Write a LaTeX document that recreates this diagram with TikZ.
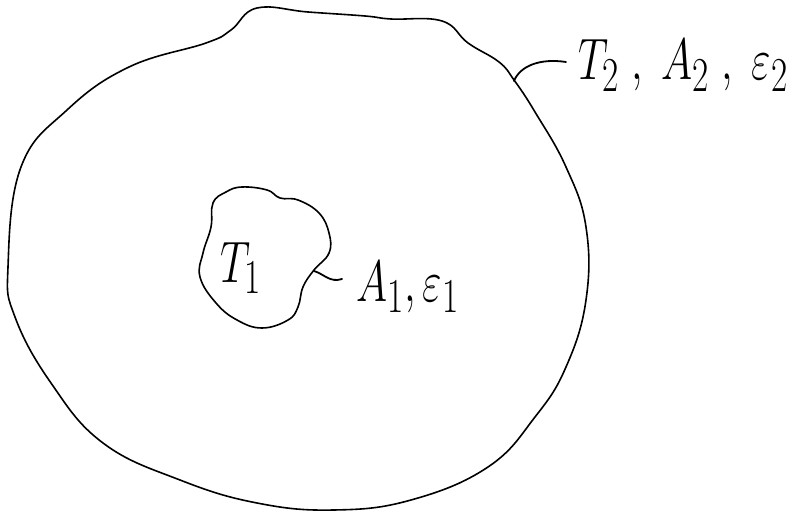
\documentclass[tikz,border=0pt]{standalone}
\begin{document}
\begin{tikzpicture}[x=1pt,y=-1pt,
  blob/.style={line width=1.6pt,line join=round},
  tick/.style={line width=1.8pt,line cap=round},
  lab/.style={inner sep=0pt,anchor=base west,font=\Huge,xscale=1.7,yscale=2.35,transform shape}]
\useasboundingbox (0,0) rectangle (806,513);
% outer region
\draw[blob] plot[smooth cycle,tension=0.7] coordinates {
  (257,8) (308,12) (365,16) (391,19) (442,21) (468,43) (499,62) (514,80)
  (535,112) (566,167) (586,227) (586,300) (566,367) (535,417) (488,467)
  (411,500) (334,510) (257,503) (180,480) (103,443) (51,383) (15,317)
  (8,267) (21,167) (67,110) (129,67) (206,43) (231,30)};
% inner body
\draw[blob] plot[smooth cycle,tension=0.7] coordinates {
  (242,187) (267,190) (280,198) (298,200) (319,213) (329,233) (329,253)
  (314,270) (303,287) (298,307) (288,320) (262,328) (237,320) (216,303)
  (200,277) (203,253) (211,227) (213,203) (226,192)};
\coordinate (p1) at (314,271);
\coordinate (p2) at (514,81);
\coordinate (e1) at (342,279);
\coordinate (e2) at (566,62);
\node[lab] (t1) at (220,282) {$T_1$};
\node[lab] (l1) at (356,301) {$A_1, \varepsilon_1$};
\node[lab] (l2) at (578,80) {$T_2\;,\;A_2\;,\;\varepsilon_2$};
\draw[tick] (p1) .. controls (324,274) and (330,283) .. (e1);
\draw[tick] (p2) .. controls (520,66) and (540,58) .. (e2);
\end{tikzpicture}
\end{document}
